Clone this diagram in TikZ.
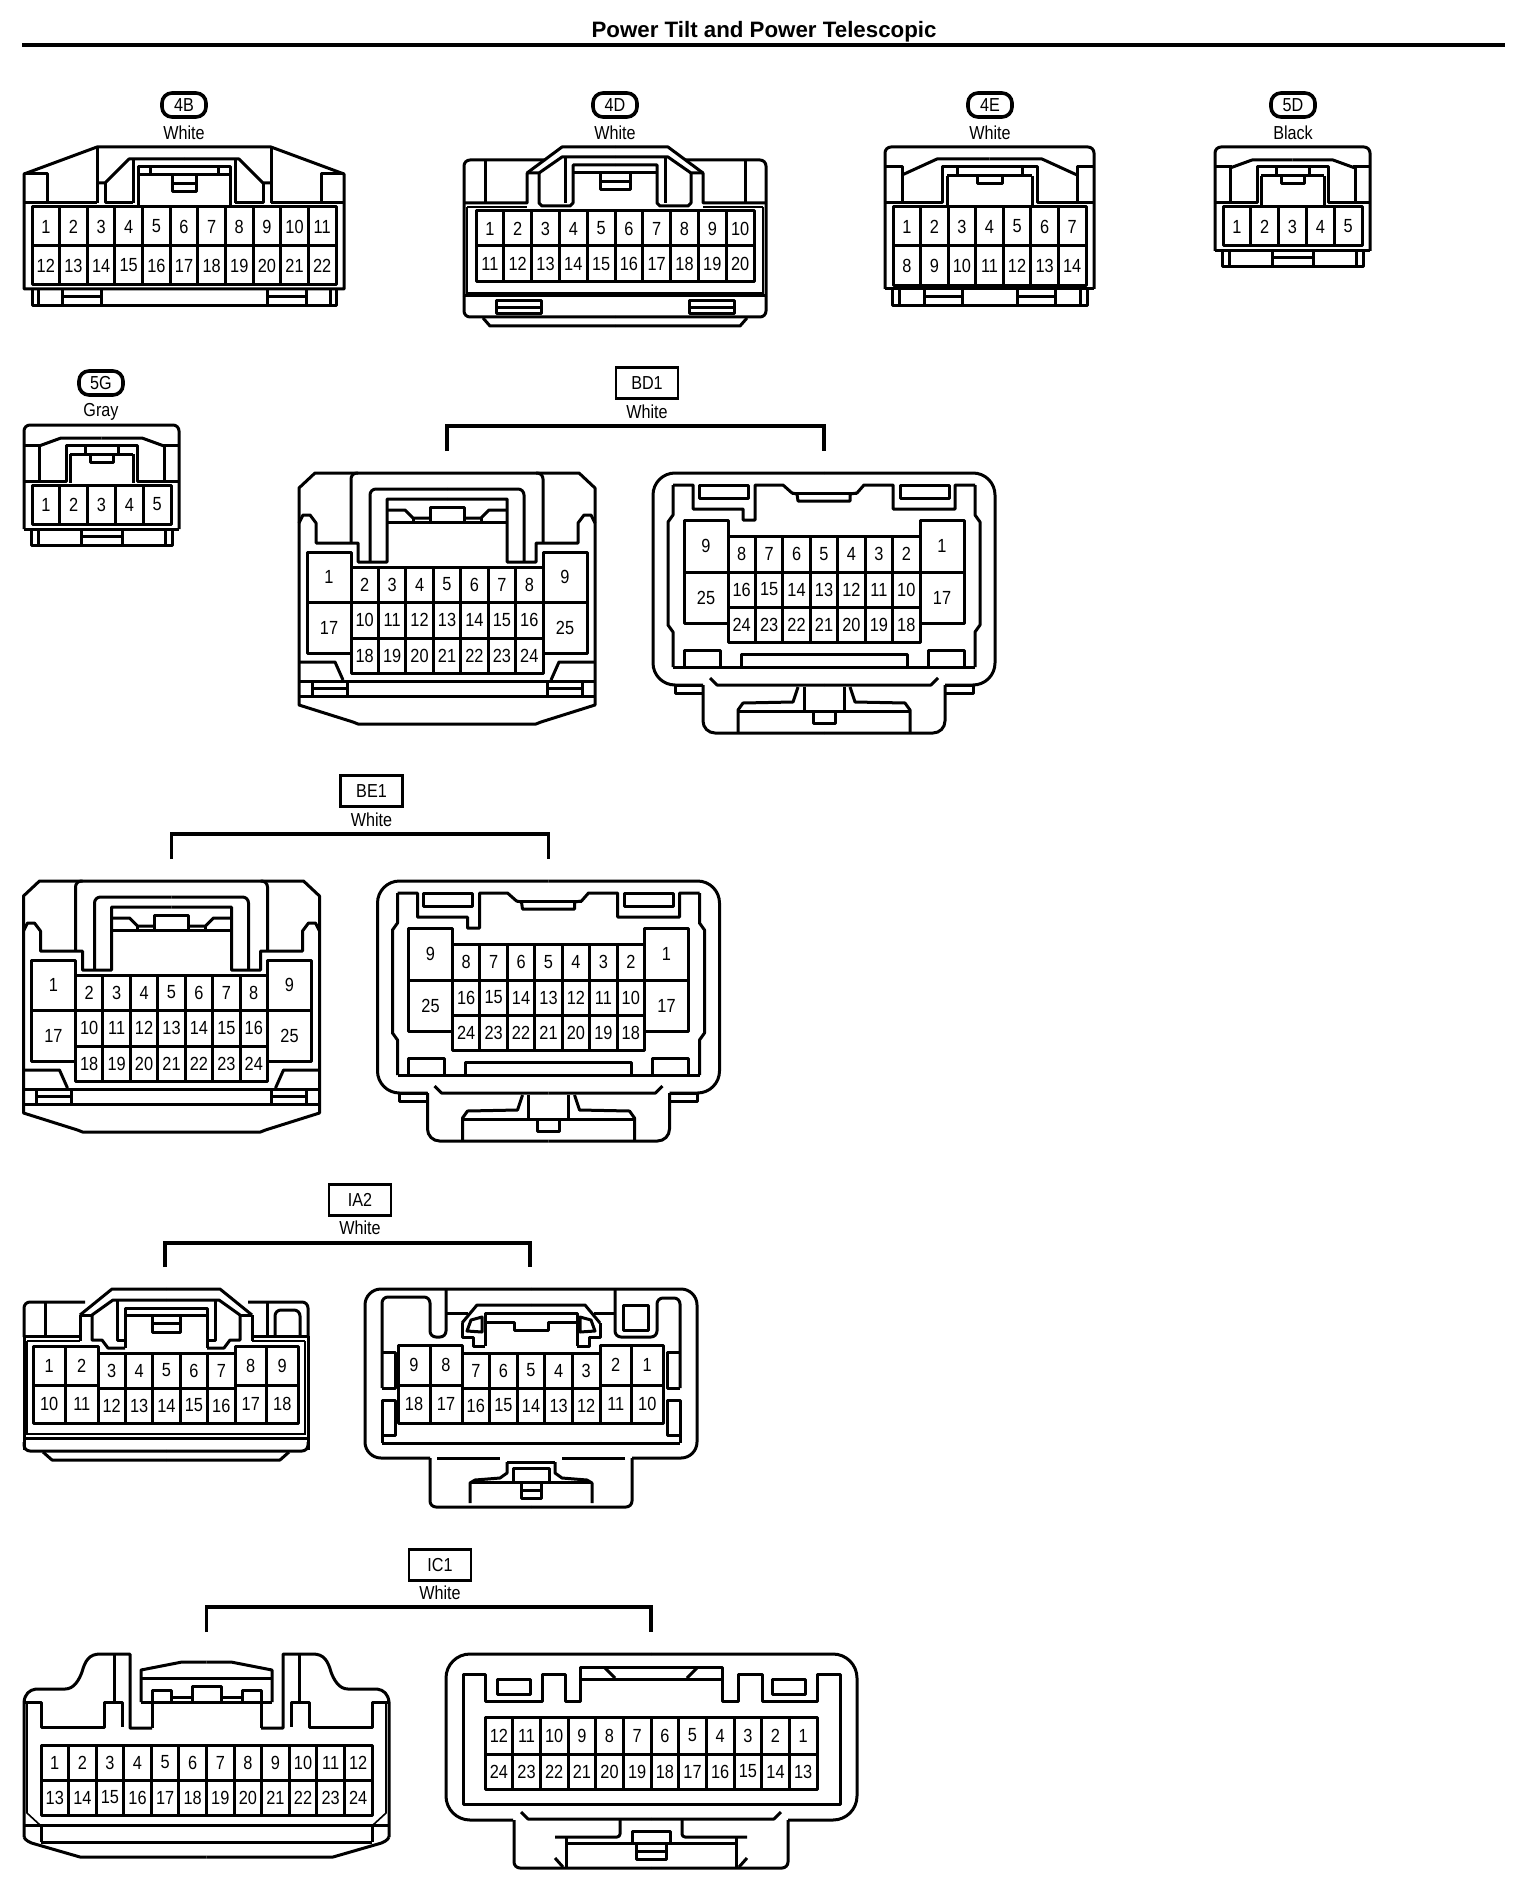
\documentclass[tikz,border=0pt]{standalone}
\usepackage{fontspec}
\setmainfont{Liberation Sans}
\newfontfamily\pinfont[FakeStretch=0.86]{Liberation Sans}
\tikzset{
  conn/.style={line width=1.5pt,line join=round},
  thinln/.style={line width=0.8pt},
  pinlbl/.style={inner sep=0pt,font=\pinfont\fontsize{9.5}{10}\selectfont},
  captxt/.style={inner sep=0pt,font=\pinfont\fontsize{9.4}{10}\selectfont},
  pill/.style={draw,line width=1.8pt,rounded corners=5pt,minimum width=22pt,minimum height=12pt,inner sep=0pt,font=\pinfont\fontsize{9.4}{10}\selectfont},
  tagbox/.style={draw,line width=1.4pt,minimum width=31pt,minimum height=15.5pt,inner sep=0pt,font=\pinfont\fontsize{9.4}{10}\selectfont},
  bracket/.style={line width=1.7pt},
  rc/.style={rounded corners=3pt},
  rcb/.style={rounded corners=12pt}
}
% #1 prefix, #2 x1, #3 x2, #4 y1, #5 y2, #6 columns, #7 labels
\newcommand\pinrow[7]{%
  \draw[conn] (#2,#4) rectangle (#3,#5);
  \foreach \lab [count=\k] in {#7} {
    \pgfmathsetmacro\cx{#2+(\k-0.5)*(#3-#2)/#6}
    \pgfmathsetmacro\cl{#2+\k*(#3-#2)/#6}
    \pgfmathsetmacro\cy{(#4+#5)/2}
    \node[pinlbl] (#1-\lab) at (\cx,\cy) {\lab};
    \ifnum\k<#6 \draw[conn] (\cl,#4)--(\cl,#5);\fi
  }%
}
\newcommand\mirrorx[2]{%
  #2
  \begin{scope}[shift={({2*#1},0)},xscale=-1]#2\end{scope}%
}
% name, xa, xb, ytop, ybottom
\newcommand\brkt[5]{%
  \coordinate (#1a) at (#2,#5);
  \coordinate (#1b) at (#3,#5);
  \draw[bracket] (#1a) -- ++(0,{#4-#5}) -| (#1b);
}
\newcommand\fivepin[1]{%
  \draw[conn,rc] (1215,251) -- (1215,147) -- (1370,147) -- (1370,251);
  \draw[conn] (1215,251) -- (1370,251);
  \mirrorx{1292.5}{
    \draw[conn] (1215,167)--(1232,167);
    \draw[conn] (1230,167)--(1230,203);
    \draw[conn] (1230,168)--(1252,160)--(1292.5,160);
    \draw[conn] (1215,203)--(1257,203)--(1257,167)--(1292.5,167);
    \draw[conn] (1261,176)--(1261,205);
    \draw[conn] (1261,176)--(1292.5,176);
    \draw[conn] (1276,167)--(1276,176);
    \draw[conn] (1281,176)--(1281,184)--(1292.5,184);
    \draw[conn] (1222,251)--(1222,267)--(1292.5,267);
    \draw[conn] (1229,251)--(1229,267);
    \draw[conn] (1272,251)--(1272,267);
    \draw[conn] (1272,258)--(1292.5,258);
  }
  \pinrow{#1}{1223}{1362}{207}{246}{5}{1,2,3,4,5}
}
\newcommand\bdone[1]{%
  % left connector
  \draw[conn] (299,488)--(315,473)--(579,473)--(595,488)--(595,705)--(541,722)--(536,724)--(358,724)--(353,722)--(299,705)--cycle;
  \mirrorx{447}{
    \draw[conn] (299,523)--(303,515)--(310,515)--(316,523)--(316,543)--(358,543)--(358,562)--(387,562)--(387,499)--(447,499);
    \draw[conn,rc] (358,473)--(351,473)--(351,543);
    \draw[conn,rc] (370,562)--(370,489)--(447,489);
    \draw[conn] (387,510)--(405,510)--(413,518)--(430,518);
    \draw[conn] (387,522)--(447,522);
    \draw[conn] (413,518)--(413,522);
    \draw[conn] (430,522)--(430,507)--(447,507);
    \draw[conn] (299,662)--(335,662)--(343,680);
    \draw[conn] (299,681)--(447,681);
    \draw[conn] (299,696)--(447,696);
    \draw[conn] (312,681)--(312,696);
    \draw[conn] (347,681)--(347,696);
    \draw[conn] (312,688)--(347,688);
  }
  \pinrow{#1l}{351}{543}{567}{602}{7}{2,3,4,5,6,7,8}
  \pinrow{#1l}{351}{543}{602}{638}{7}{10,11,12,13,14,15,16}
  \pinrow{#1l}{351}{543}{638}{673}{7}{18,19,20,21,22,23,24}
  \pinrow{#1l}{307}{351}{552}{602}{1}{1}
  \pinrow{#1l}{307}{351}{602}{653}{1}{17}
  \pinrow{#1l}{543}{587}{552}{602}{1}{9}
  \pinrow{#1l}{543}{587}{602}{653}{1}{25}
  % right connector
  \draw[conn,rounded corners=11pt] (824,473)--(653,473)--(653,685)--(703,685);
  \draw[conn,rounded corners=11pt] (824,473)--(995,473)--(995,685)--(945,685);
  \mirrorx{824}{
    \draw[conn] (703,685)--(675,685)--(675,693)--(703,693);
    \draw[conn,rounded corners=6pt] (703,685)--(703,733)--(824,733);
    \draw[conn] (710,678)--(717,685)--(824,685);
    \draw[conn] (673,667)--(824,667);
    \draw[conn] (673,667)--(673,632)--(668,625)--(668,522)--(673,515)--(673,485);
    \draw[conn] (684,667)--(684,650)--(720,650)--(720,667);
    \draw[conn] (741,667)--(741,654)--(824,654);
    \draw[conn] (699,485) rectangle (748,498);
    \draw[conn] (798,687)--(793,702)--(743,703)--(738,710)--(738,732);
    \draw[conn] (738,711)--(824,711);
    \draw[conn] (804,687)--(804,711);
    \draw[conn] (813,711)--(813,723)--(824,723);
  }
  \draw[conn] (673,485)--(693,485)--(693,509)--(743,509)--(743,520)--(755,520)--(755,485)--(783,485)--(792,493)--(797,494)--(798,501)--(850,501)--(850,494)--(857,493)--(864,485)--(893,485)--(893,509)--(955,509)--(955,485)--(975,485);
  \draw[conn] (792,493)--(857,493);
  \pinrow{#1r}{684}{728}{520}{572}{1}{9}
  \pinrow{#1r}{684}{728}{572}{623}{1}{25}
  \pinrow{#1r}{920}{964}{520}{572}{1}{1}
  \pinrow{#1r}{920}{964}{572}{623}{1}{17}
  \pinrow{#1r}{728}{920}{536}{572}{7}{8,7,6,5,4,3,2}
  \pinrow{#1r}{728}{920}{572}{607}{7}{16,15,14,13,12,11,10}
  \pinrow{#1r}{728}{920}{607}{642}{7}{24,23,22,21,20,19,18}
  % label
  \node[tagbox] (#1) at (647,383) {\MakeUppercase{#1}};
  \node[captxt] (#1w) at (647,412) {White};
  \brkt{#1k}{447}{824}{426}{451}
}
\begin{document}
\begin{tikzpicture}[x=0.5pt,y=-0.5pt]
\useasboundingbox (0,0) rectangle (1536,1904);
% title
\node[inner sep=0pt,font=\bfseries\fontsize{11.15}{12}\selectfont] (title) at (764,32) {Power Tilt and Power Telescopic};
\draw[line width=2pt] (22,45) -- (1505,45);

% ---------- 4B
\node[pill] (n4B) at (184,105) {4B};
\node[captxt] (w4B) at (184,133) {White};
\draw[conn] (24,289)--(24,174)--(97,147)--(271,147)--(344,174)--(344,289)--cycle;
\mirrorx{184}{
  \draw[conn] (24,174)--(47,174)--(47,203);
  \draw[conn] (24,203)--(97,203);
  \draw[conn] (97,147)--(97,203);
  \draw[conn] (97,183)--(105,183)--(129,159)--(184,159);
  \draw[conn] (105,183)--(105,203)--(133,203);
  \draw[conn] (133,159)--(133,203);
  \draw[conn] (138,205)--(138,167)--(184,167);
  \draw[conn] (138,175)--(184,175);
  \draw[conn] (150,167)--(150,175);
  \draw[conn] (172,175)--(172,192)--(184,192);
  \draw[conn] (172,184)--(184,184);
  \draw[conn] (32,289)--(32,306)--(184,306);
  \draw[conn] (38,289)--(38,306);
  \draw[conn] (62,289)--(62,306);
  \draw[conn] (101,289)--(101,306);
  \draw[conn] (62,297)--(101,297);
}
\pinrow{a}{32}{336}{207}{246}{11}{1,2,3,4,5,6,7,8,9,10,11}
\pinrow{a}{32}{336}{246}{285}{11}{12,13,14,15,16,17,18,19,20,21,22}

% ---------- 4D
\node[pill] (n4D) at (615,105) {4D};
\node[captxt] (w4D) at (615,133) {White};
\mirrorx{615}{
  \draw[conn] (615,147)--(562,147)--(527,173);
  \draw[conn,rc] (545,160)--(464,160)--(464,297);
  \draw[conn] (485,160)--(485,203);
  \draw[conn] (464,203)--(527,203)--(527,173)--(539,173)--(562,157)--(615,157);
  \draw[conn] (565,157)--(565,203);
  \draw[conn] (539,173)--(539,203)--(542,206)--(570,206)--(573,203)--(573,165)--(615,165);
  \draw[thinln] (467,207)--(467,293)--(615,293);
  \draw[thinln] (467,207)--(527,207);
  \draw[conn] (464,296)--(615,296);
  \draw[conn] (573,173)--(615,173);
  \draw[conn] (600,173)--(600,190)--(615,190);
  \draw[conn] (600,182)--(615,182);
  \draw[conn,rc] (464,297)--(464,317)--(615,317);
  \draw[conn] (483,318)--(490,326)--(615,326);
  \draw[conn] (496,301) rectangle (541,314);
  \draw[conn] (496,308)--(541,308);
}
\pinrow{b}{476}{754}{211}{246}{10}{1,2,3,4,5,6,7,8,9,10}
\pinrow{b}{476}{754}{246}{282}{10}{11,12,13,14,15,16,17,18,19,20}

% ---------- 4E
\node[pill] (n4E) at (990,105) {4E};
\node[captxt] (w4E) at (990,133) {White};
\draw[conn,rc] (885,289)--(885,147)--(1094,147)--(1094,289);
\draw[conn] (885,289)--(1094,289);
\mirrorx{989.5}{
  \draw[conn] (885,167)--(902,167)--(902,203);
  \draw[conn] (902,175)--(937,159)--(989.5,159);
  \draw[conn] (885,203)--(942,203)--(942,167)--(989.5,167);
  \draw[conn] (947,176)--(947,206);
  \draw[conn] (947,176)--(989.5,176);
  \draw[conn] (957,167)--(957,176);
  \draw[conn] (977,176)--(977,184)--(989.5,184);
  \draw[conn] (892,289)--(892,306)--(989.5,306);
  \draw[conn] (899,289)--(899,306);
  \draw[conn] (924,289)--(924,306);
  \draw[conn] (962,289)--(962,306);
  \draw[conn] (924,297)--(962,297);
}
\pinrow{c}{893}{1086}{207}{246}{7}{1,2,3,4,5,6,7}
\pinrow{c}{893}{1086}{246}{286}{7}{8,9,10,11,12,13,14}

% ---------- 5D
\node[pill] (n5D) at (1293,105) {5D};
\node[captxt] (w5D) at (1293,133) {Black};
\fivepin{d}

% ---------- 5G
\node[pill] (n5G) at (101,383) {5G};
\node[captxt] (w5G) at (101,412) {Gray};
\begin{scope}[shift={(-1191,278)}]
\fivepin{g}
\end{scope}

% ---------- BD1
\bdone{Bd1}

% ---------- BE1
\begin{scope}[shift={(-275.5,408)}]
\bdone{Be1}
\end{scope}

% ---------- IA2
\node[tagbox] (ia2) at (360,1200) {IA2};
\node[captxt] (ia2w) at (360,1228) {White};
\brkt{ia2k}{165}{530}{1243}{1267}
\draw[conn,rc] (24,1337)--(24,1302)--(85,1302);
\draw[conn,rc] (308,1337)--(308,1302)--(248,1302);
\mirrorx{166}{
  \draw[conn] (24,1336)--(24,1450);
  \draw[conn] (24,1438)--(166,1438);
  \draw[thinln] (27,1341)--(27,1434)--(166,1434);
  \draw[thinln] (27,1341)--(80,1341);
  \draw[conn] (80,1315)--(112,1289)--(166,1289);
  \draw[conn] (92,1315)--(113,1300)--(166,1300);
  \draw[conn] (80,1315)--(92,1315);
  \draw[conn] (80,1315)--(80,1341);
  \draw[conn] (92,1315)--(92,1340)--(102,1340)--(108,1348)--(125,1348);
  \draw[conn] (24,1336)--(80,1336);
  \draw[conn,rc] (24,1442)--(24,1451)--(166,1451);
  \draw[conn] (43,1452)--(52,1460)--(166,1460);
  \draw[conn] (125,1348)--(125,1308)--(166,1308);
  \draw[conn] (125,1315)--(166,1315);
  \draw[conn] (117,1300)--(117,1340)--(125,1340);
  \draw[conn] (152,1315)--(152,1332)--(166,1332);
  \draw[conn] (152,1323)--(166,1323);
}
\draw[conn] (45,1302)--(45,1336);
\draw[conn] (267,1302)--(267,1336);
\draw[conn,rc] (275,1336)--(275,1310)--(300,1310)--(300,1336);
\pinrow{e}{33}{98}{1346}{1385}{2}{1,2}
\pinrow{e}{33}{98}{1385}{1423}{2}{10,11}
\pinrow{e}{98}{235}{1353}{1388}{5}{3,4,5,6,7}
\pinrow{e}{98}{235}{1388}{1423}{5}{12,13,14,15,16}
\pinrow{e}{235}{298}{1346}{1385}{2}{8,9}
\pinrow{e}{235}{298}{1385}{1423}{2}{17,18}
% right
\draw[conn,rounded corners=8pt] (531,1289)--(365,1289)--(365,1458)--(430,1458);
\draw[conn,rounded corners=8pt] (531,1289)--(697,1289)--(697,1458)--(632,1458);
\mirrorx{531}{
  \draw[conn,rc] (430,1458)--(430,1507)--(531,1507);
  \draw[conn] (382,1443)--(531,1443);
  \draw[conn] (382,1443)--(382,1400)--(395,1400)--(395,1435)--(382,1435);
  \draw[conn] (382,1388)--(395,1388)--(395,1352)--(382,1352);
  \draw[conn] (437,1458)--(500,1458);
  \draw[conn] (507,1462)--(507,1473)--(500,1478)--(475,1480)--(470,1483)--(470,1503);
  \draw[conn] (507,1462)--(531,1462);
  \draw[conn] (470,1482)--(531,1482);
  \draw[conn] (513,1482)--(513,1468)--(531,1468);
  \draw[conn] (521,1482)--(521,1498)--(531,1498);
  \draw[conn] (521,1490)--(531,1490);
  % catch
  \draw[conn] (462,1323)--(477,1305)--(531,1305);
  \draw[conn] (462,1323)--(462,1337)--(473,1337)--(473,1346)--(485,1346);
  \draw[conn] (485,1346)--(485,1313)--(531,1313);
  \draw[conn] (485,1322)--(514,1322)--(514,1330)--(531,1330);
  \draw[conn] (467,1331)--(471,1320)--(482,1317)--(482,1332)--cycle;
}
\draw[conn,rc] (382,1388)--(382,1297)--(430,1297)--(430,1337)--(446,1337)--(446,1289);
\draw[conn,rc] (680,1388)--(680,1298)--(657,1298)--(657,1337)--(615,1337)--(615,1289);
\draw[conn] (446,1313)--(468,1313);
\draw[conn] (594,1313)--(615,1313);
\draw[conn] (623,1305) rectangle (648,1330);
\pinrow{f}{398}{462}{1345}{1385}{2}{9,8}
\pinrow{f}{398}{462}{1385}{1423}{2}{18,17}
\pinrow{f}{462}{600}{1353}{1388}{5}{7,6,5,4,3}
\pinrow{f}{462}{600}{1388}{1423}{5}{16,15,14,13,12}
\pinrow{f}{600}{663}{1345}{1385}{2}{2,1}
\pinrow{f}{600}{663}{1385}{1423}{2}{11,10}

% ---------- IC1
\node[tagbox] (ic1) at (440,1565) {IC1};
\node[captxt] (ic1w) at (440,1593) {White};
\brkt{ic1k}{206.5}{651}{1607}{1632}
\mirrorx{206.5}{
  \draw[conn] (24,1837)--(24,1702) .. controls (25,1694) and (29,1690) .. (36,1689) -- (65,1689) .. controls (74,1689) and (79,1680) .. (82,1672) .. controls (85,1661) and (89,1654) .. (100,1654) -- (130,1654)--(130,1728)--(152,1728);
  \draw[conn] (24,1837) .. controls (25,1840) and (30,1843) .. (35,1844) -- (80,1857) -- (206.5,1857);
  \draw[conn] (114,1654)--(114,1702);
  \draw[conn] (24,1702)--(41,1702)--(41,1727)--(104,1727)--(104,1702)--(122,1702)--(122,1727);
  \draw[thinln] (27,1702)--(27,1813)--(40,1825);
  \draw[conn] (24,1825)--(206.5,1825);
  \draw[conn] (41,1842)--(206.5,1842);
  \draw[conn] (41,1825)--(41,1842);
  \draw[conn] (141,1702)--(141,1670)--(182,1662)--(206.5,1662);
  \draw[conn] (141,1678)--(206.5,1678);
  \draw[conn] (141,1702)--(206.5,1702);
  \draw[conn] (152,1728)--(152,1690)--(171,1690)--(171,1702);
  \draw[conn] (171,1697)--(192,1697);
  \draw[conn] (192,1702)--(192,1686)--(206.5,1686);
}
\pinrow{h}{41}{372}{1745}{1780}{12}{1,2,3,4,5,6,7,8,9,10,11,12}
\pinrow{h}{41}{372}{1780}{1815}{12}{13,14,15,16,17,18,19,20,21,22,23,24}
% right
\draw[conn,rcb] (651,1654)--(446,1654)--(446,1820)--(513,1820);
\draw[conn,rcb] (651,1654)--(857,1654)--(857,1820)--(788,1820);
\mirrorx{651}{
  \draw[conn,rc] (514,1820)--(514,1868)--(651,1868);
  \draw[conn] (521,1812)--(528,1819)--(651,1819);
  \draw[conn,rounded corners=1.5pt] (620,1819)--(620,1837)--(555,1837);
  \draw[conn] (566,1843)--(651,1843);
  \draw[conn] (566,1837)--(566,1868);
  \draw[conn] (555,1858)--(563,1867);
  \draw[conn] (632,1843)--(632,1831)--(651,1831);
  \draw[conn] (636,1843)--(636,1859)--(651,1859);
  \draw[conn] (636,1851)--(651,1851);
  \draw[conn] (497,1679) rectangle (530,1694);
  \draw[conn] (605,1668)--(615,1678);
}
\draw[conn] (463,1674)--(485,1674)--(485,1701)--(542,1701)--(542,1674)--(565,1674)--(565,1701)--(580,1701)--(580,1667)--(722,1667)--(722,1701)--(738,1701)--(738,1674)--(762,1674)--(762,1701)--(817,1701)--(817,1674)--(840,1674)--(840,1804)--(463,1804)--cycle;
\draw[conn] (580,1679)--(722,1679);
\pinrow{i}{485}{817}{1717}{1754}{12}{12,11,10,9,8,7,6,5,4,3,2,1}
\pinrow{i}{485}{817}{1754}{1789}{12}{24,23,22,21,20,19,18,17,16,15,14,13}
\end{tikzpicture}
\end{document}
